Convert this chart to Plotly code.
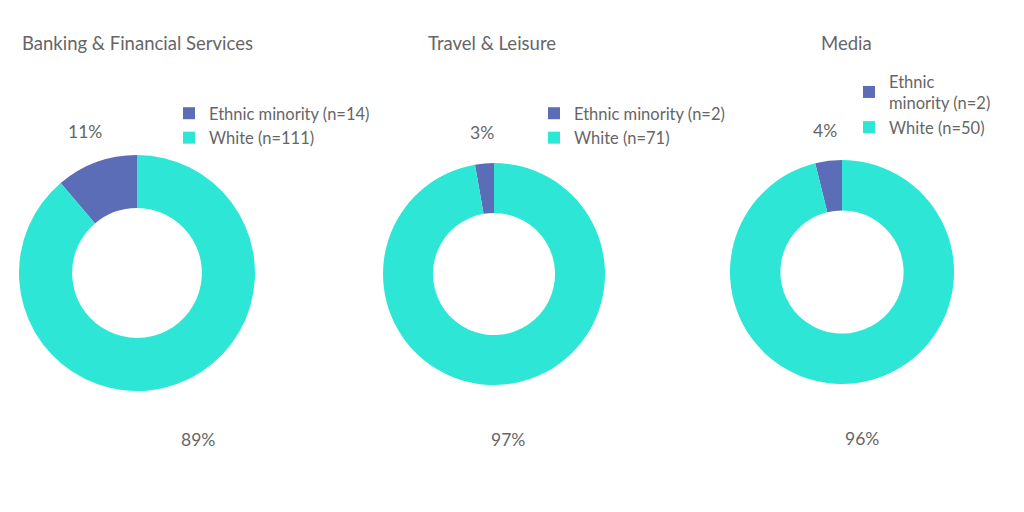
import math
import plotly.graph_objects as go

# data
sectors = ["Banking & Financial Services", "Travel & Leisure", "Media"]
minority_counts = [14, 2, 2]
white_counts = [111, 71, 50]
minority_labels = ["Ethnic minority (n=14)", "Ethnic minority (n=2)", "Ethnic<br>minority (n=2)"]
white_labels = ["White (n=111)", "White (n=71)", "White (n=50)"]

W, H = 1024, 512
colors = ["#5B6DB6", "#2EE6D6"]
grey = "#666666"
font = "Lato"

# pixel layout of each donut: centre x, centre y, radius
centres = [(137, 273, 118), (494, 274, 111), (842, 272, 112)]
title_x = [20, 426, 819]
legend_x = [169, 534, 849]
legend_y = [96, 96, 64]

fig = go.Figure()
annotations = []

for i in range(3):
    cx, cy, r = centres[i]
    leg = "legend" if i == 0 else "legend" + str(i + 1)
    total = minority_counts[i] + white_counts[i]
    # minority slice sits just left of 12 o'clock
    rot = -360 * minority_counts[i] / total
    fig.add_trace(go.Pie(
        labels=[minority_labels[i], white_labels[i]],
        values=[minority_counts[i], white_counts[i]],
        hole=0.55,
        sort=False,
        direction="clockwise",
        rotation=rot,
        marker=dict(colors=colors),
        textinfo="none",
        domain=dict(x=[(cx - r) / W, (cx + r) / W], y=[1 - (cy + r) / H, 1 - (cy - r) / H]),
        legend=leg,
    ))

    annotations.append(dict(
        text=sectors[i], x=title_x[i] / W, y=1 - 43 / H, xref="paper", yref="paper",
        xanchor="left", yanchor="middle", showarrow=False,
        font=dict(size=18.5, color=grey, family=font),
    ))

    # percentage labels placed along the mid-angle of each slice
    start = 0.0
    for val, k in [(minority_counts[i], 1.275), (white_counts[i], 1.50)]:
        frac = val / total
        mid = (start + frac / 2) * 2 * math.pi
        start += frac
        px = cx - k * r * math.sin(mid)
        py = cy - k * r * math.cos(mid)
        annotations.append(dict(
            text=f"{round(frac * 100)}%", x=px / W, y=1 - py / H, xref="paper", yref="paper",
            xanchor="center", yanchor="middle", showarrow=False,
            font=dict(size=17.5, color=grey, family=font),
        ))

legends = {}
for i in range(3):
    key = "legend" if i == 0 else "legend" + str(i + 1)
    legends[key] = dict(
        x=legend_x[i] / W, y=1 - legend_y[i] / H, xanchor="left", yanchor="top",
        font=dict(size=16.5, color=grey, family=font),
        bgcolor="rgba(0,0,0,0)", traceorder="normal",
        itemclick=False, tracegroupgap=0,
    )

fig.update_layout(
    width=W, height=H,
    margin=dict(l=0, r=0, t=0, b=0),
    paper_bgcolor="white",
    plot_bgcolor="white",
    annotations=annotations,
    **legends,
)

fig.write_html("out.html", config={"displayModeBar": False},
               post_script="document.body.style.margin='0';")
